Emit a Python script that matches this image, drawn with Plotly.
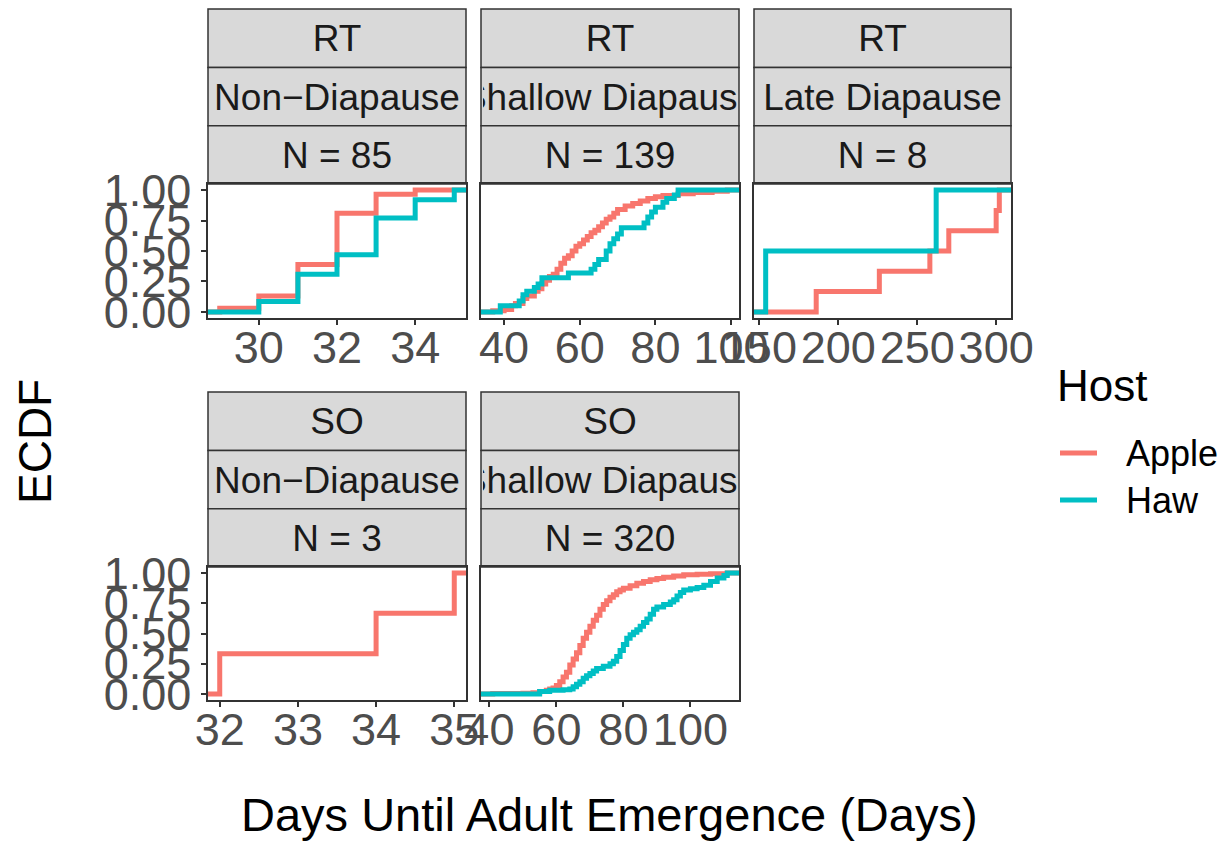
import plotly.graph_objects as go

# ---------------- data ----------------
site_labels = ["RT", "RT", "RT", "SO", "SO"]
diapause_labels = ["Non\u2212Diapause", "Shallow Diapause", "Late Diapause",
                   "Non\u2212Diapause", "Shallow Diapause"]
n_labels = ["N = 85", "N = 139", "N = 8", "N = 3", "N = 320"]
hosts = ["Apple", "Haw"]
legend_title = "Host"

# RT Non-Diapause
rt_non_apple_days = [29, 30, 31, 32, 33, 34]
rt_non_apple_ecdf = [0.03, 0.13, 0.39, 0.81, 0.965, 1.0]
rt_non_haw_days = [30, 31, 32, 33, 34, 35]
rt_non_haw_ecdf = [0.085, 0.31, 0.47, 0.77, 0.92, 1.0]

# RT Shallow Diapause
rt_sh_apple_days = [37, 40, 42, 43, 45, 46, 48, 49, 50, 51, 52, 53, 54, 55, 56, 57, 58,
                    59, 60, 61, 62, 63, 64, 65, 66, 67, 68, 69, 70, 72, 74, 76, 78, 80,
                    82, 86, 90, 95, 99]
rt_sh_apple_ecdf = [0.01, 0.02, 0.05, 0.07, 0.11, 0.13, 0.17, 0.19, 0.23, 0.26, 0.29,
                    0.31, 0.35, 0.40, 0.44, 0.46, 0.50, 0.54, 0.56, 0.59, 0.62, 0.65,
                    0.67, 0.70, 0.73, 0.76, 0.78, 0.81, 0.84, 0.87, 0.89, 0.91, 0.93,
                    0.945, 0.955, 0.97, 0.98, 0.99, 1.0]
rt_sh_haw_days = [39, 44, 45, 46, 48, 49, 50, 57, 63, 64, 65, 67, 68, 69, 70, 71, 77,
                  78, 79, 80, 82, 83, 85, 86]
rt_sh_haw_ecdf = [0.05, 0.09, 0.14, 0.17, 0.20, 0.23, 0.28, 0.32, 0.35, 0.39, 0.43,
                  0.50, 0.56, 0.60, 0.64, 0.69, 0.73, 0.78, 0.82, 0.86, 0.90, 0.93,
                  0.96, 1.0]

# RT Late Diapause
rt_late_apple_days = [186, 226, 258, 270, 300, 302]
rt_late_apple_ecdf = [1 / 6, 2 / 6, 3 / 6, 4 / 6, 5 / 6, 1.0]
rt_late_haw_days = [154, 262]
rt_late_haw_ecdf = [0.5, 1.0]

# SO Non-Diapause
so_non_apple_days = [32, 34, 35]
so_non_apple_ecdf = [1 / 3, 2 / 3, 1.0]
so_non_haw_days = []
so_non_haw_ecdf = []

# SO Shallow Diapause
so_sh_apple_days = [41, 50, 53, 55, 57, 58, 59, 60, 61, 62, 63, 64, 65, 66, 67, 68, 69,
                    70, 71, 72, 73, 74, 75, 76, 77, 78, 79, 80, 82, 84, 86, 88, 90, 92,
                    95, 98, 102, 106, 111]
so_sh_apple_ecdf = [0.003, 0.006, 0.01, 0.02, 0.03, 0.04, 0.05, 0.07, 0.10, 0.14, 0.18,
                    0.24, 0.29, 0.34, 0.40, 0.46, 0.51, 0.56, 0.61, 0.65, 0.70, 0.74,
                    0.77, 0.80, 0.82, 0.845, 0.86, 0.875, 0.895, 0.915, 0.93, 0.945,
                    0.955, 0.965, 0.975, 0.985, 0.99, 0.995, 1.0]
so_sh_haw_days = [55, 58, 62, 64, 65, 66, 67, 68, 69, 70, 71, 72, 74, 76, 77, 78, 79,
                  80, 81, 82, 83, 84, 85, 86, 87, 88, 89, 90, 92, 94, 95, 96, 97, 98,
                  100, 102, 104, 106, 108, 110, 111]
so_sh_haw_ecdf = [0.02, 0.03, 0.035, 0.04, 0.06, 0.08, 0.10, 0.13, 0.15, 0.17, 0.19,
                  0.21, 0.23, 0.25, 0.27, 0.31, 0.36, 0.41, 0.46, 0.49, 0.51, 0.53,
                  0.56, 0.59, 0.62, 0.66, 0.70, 0.72, 0.74, 0.76, 0.78, 0.81, 0.84,
                  0.86, 0.87, 0.88, 0.90, 0.93, 0.96, 0.98, 1.0]

x_ticks = [[30, 32, 34], [40, 60, 80, 100], [150, 200, 250, 300],
           [32, 33, 34, 35], [40, 60, 80, 100]]
y_ticks = [0, 0.25, 0.5, 0.75, 1.0]
y_ticklabels = ["0.00", "0.25", "0.50", "0.75", "1.00"]

panel_series = [
    [(rt_non_apple_days, rt_non_apple_ecdf), (rt_non_haw_days, rt_non_haw_ecdf)],
    [(rt_sh_apple_days, rt_sh_apple_ecdf), (rt_sh_haw_days, rt_sh_haw_ecdf)],
    [(rt_late_apple_days, rt_late_apple_ecdf), (rt_late_haw_days, rt_late_haw_ecdf)],
    [(so_non_apple_days, so_non_apple_ecdf), (so_non_haw_days, so_non_haw_ecdf)],
    [(so_sh_apple_days, so_sh_apple_ecdf), (so_sh_haw_days, so_sh_haw_ecdf)],
]

# ---------------- styling / layout ----------------
W, H = 1226, 841
COLORS = {"Apple": "#F8766D", "Haw": "#00BFC4"}
FONT = "Liberation Sans, Arial, sans-serif"
col_px = [(208, 466), (481, 739), (754, 1011)]
row_px = [(184, 318), (567, 700)]
strip_h = 58.3
panel_pos = [(0, 0), (0, 1), (0, 2), (1, 0), (1, 1)]
LW = 5
TICK_SIZE = 45


def px_x(p):
    return p / W


def px_y(p):
    return 1 - p / H


fig = go.Figure()
layout = dict(
    template="none",
    width=W, height=H,
    margin=dict(l=0, r=0, t=0, b=0, pad=0),
    paper_bgcolor="white", plot_bgcolor="white",
    font=dict(family=FONT, color="#1A1A1A"),
    showlegend=False,
)
shapes = []
annotations = []

for i, series in enumerate(panel_series):
    r, c = panel_pos[i]
    ax = "" if i == 0 else str(i + 1)
    all_days = [d for days, _ in series for d in days]
    lo, hi = min(all_days), max(all_days)
    pad = 0.05 * (hi - lo)
    xr = [lo - pad, hi + pad]
    for h, (days, ecdf) in zip(hosts, series):
        if not days:
            continue
        xs = [xr[0]] + list(days) + [xr[1]]
        ys = [0] + list(ecdf) + [ecdf[-1]]
        fig.add_trace(go.Scatter(
            x=xs, y=ys, mode="lines", line=dict(color=COLORS[h], width=LW, shape="hv"),
            name=h, legendgroup=h, showlegend=False,
            xaxis="x" + ax, yaxis="y" + ax, hoverinfo="skip",
        ))
    x0, x1 = col_px[c]
    y0, y1 = row_px[r]
    layout["xaxis" + ax] = dict(
        domain=[px_x(x0), px_x(x1)], range=xr, anchor="y" + ax, automargin=False,
        tickvals=x_ticks[i], ticktext=[str(v) for v in x_ticks[i]], tickangle=0,
        ticks="outside", ticklen=5, tickwidth=1.5, tickcolor="#333333",
        ticklabelstandoff=-16,
        tickfont=dict(size=TICK_SIZE, color="#4D4D4D", family=FONT),
        showline=True, linecolor="#333333", linewidth=1.5, mirror=True,
        showgrid=False, zeroline=False,
    )
    layout["yaxis" + ax] = dict(
        domain=[px_y(y1), px_y(y0)], range=[-0.05, 1.05], anchor="x" + ax,
        automargin=False,
        tickvals=y_ticks, ticktext=y_ticklabels,
        showticklabels=(c == 0), ticks="outside" if c == 0 else "",
        ticklen=5, tickwidth=1.5, tickcolor="#333333", ticklabelstandoff=1,
        tickfont=dict(size=TICK_SIZE, color="#4D4D4D", family=FONT),
        showline=True, linecolor="#333333", linewidth=1.5, mirror=True,
        showgrid=False, zeroline=False,
    )
    # strips
    texts = [site_labels[i], diapause_labels[i], n_labels[i]]
    for k, t in enumerate(texts):
        sy1 = y0 - (2 - k) * strip_h
        sy0 = sy1 - strip_h
        shapes.append(dict(
            type="rect", xref="paper", yref="paper",
            x0=px_x(x0), x1=px_x(x1), y0=px_y(sy1), y1=px_y(sy0),
            fillcolor="#D9D9D9", line=dict(color="#333333", width=1.5), layer="below",
        ))
        annotations.append(dict(
            text=t, xref="paper", yref="paper",
            x=px_x((x0 + x1) / 2), y=px_y((sy0 + sy1) / 2),
            xanchor="center", yanchor="middle", showarrow=False,
            width=(x1 - x0) - 4, height=strip_h - 4, align="center", valign="middle",
            font=dict(size=37, color="#1A1A1A", family=FONT),
        ))

annotations.append(dict(
    text="ECDF", xref="paper", yref="paper", x=px_x(35), y=px_y(442),
    xanchor="center", yanchor="middle", showarrow=False, textangle=-90,
    font=dict(size=46, color="black", family=FONT),
))
annotations.append(dict(
    text="Days Until Adult Emergence (Days)", xref="paper", yref="paper",
    x=px_x(609), y=px_y(814), xanchor="center", yanchor="middle", showarrow=False,
    font=dict(size=47, color="black", family=FONT),
))

# legend (drawn manually to match ggplot key layout)
annotations.append(dict(
    text=legend_title, xref="paper", yref="paper", x=px_x(1055), y=px_y(386),
    xanchor="left", yanchor="middle", showarrow=False,
    font=dict(size=44, color="black", family=FONT),
))
for j, h in enumerate(hosts):
    yc = 453 + j * 47
    shapes.append(dict(
        type="line", xref="paper", yref="paper",
        x0=px_x(1060), x1=px_x(1097), y0=px_y(yc), y1=px_y(yc),
        line=dict(color=COLORS[h], width=LW),
    ))
    annotations.append(dict(
        text=h, xref="paper", yref="paper", x=px_x(1124), y=px_y(yc),
        xanchor="left", yanchor="middle", showarrow=False,
        font=dict(size=36, color="black", family=FONT),
    ))

layout["shapes"] = shapes
layout["annotations"] = annotations
fig.update_layout(**layout)
fig.write_html("out.html", config={"displayModeBar": False},
               post_script="document.body.style.margin='0px';")
